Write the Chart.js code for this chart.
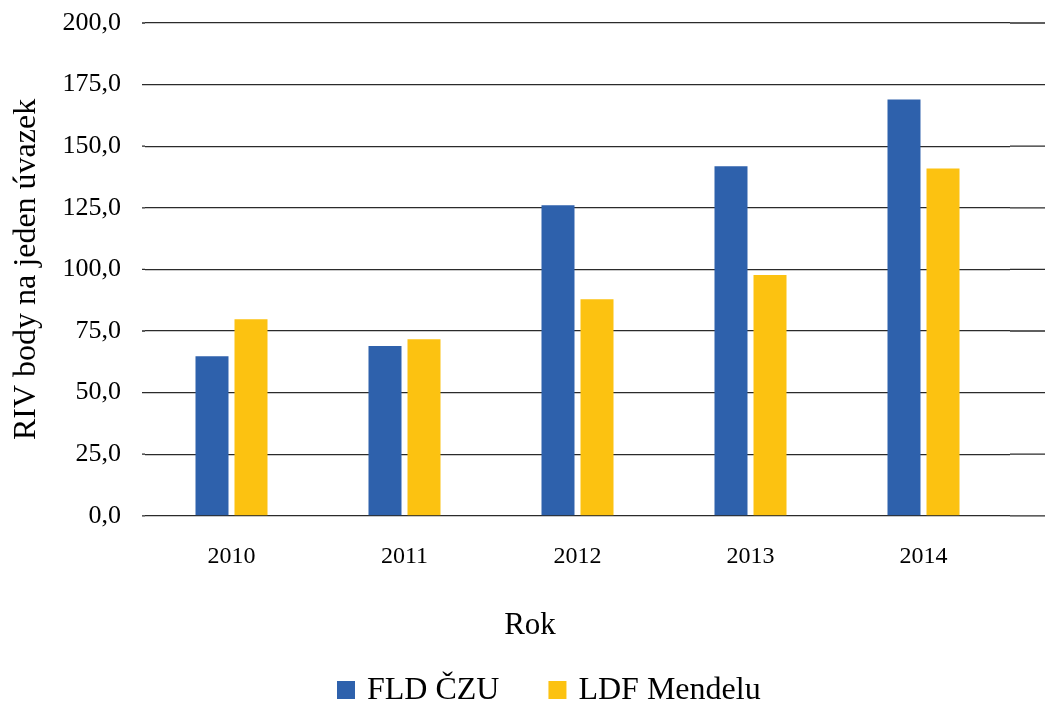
<!DOCTYPE html>
<html><head><meta charset="utf-8">
<script src="https://cdn.jsdelivr.net/npm/chart.js@4/dist/chart.umd.min.js"></script>
<style>html,body{margin:0;padding:0;background:#fff}#wrap{width:1045px;height:705px;position:relative}</style>
</head><body><div id="wrap"><canvas id="c" width="1045" height="705"></canvas></div>
<script>
// ---- data ----
const years = ['2010', '2011', '2012', '2013', '2014'];
const fldCzu = [64.8, 68.9, 126.0, 141.9, 169.0];
const ldfMendelu = [79.8, 71.7, 87.9, 97.7, 141.0];
const seriesNames = ['FLD ČZU', 'LDF Mendelu'];
const yTicks = [0, 25, 50, 75, 100, 125, 150, 175, 200];
const yTitle = 'RIV body na jeden úvazek';
const xTitle = 'Rok';

// ---- style ----
const BLUE = '#2E61AC';
const YELLOW = '#FCC211';
const GRID = '#2b2b2b';
const FONT = 'Liberation Serif';
Chart.defaults.font.family = FONT;
Chart.defaults.color = '#000';

// warm up the serif face on a scratch canvas before the chart draws
(function () {
  const c = document.createElement('canvas');
  const x = c.getContext('2d');
  [24, 26, 31, 32].forEach(s => { x.font = s + 'px ' + FONT; x.measureText('FLD ČZU LDF Mendelu Rok 2010'); x.fillText('FLD ČZU', 0, 20); });
})();

// extends the library's own y gridlines slightly beyond the plot area (as in the reference)
const extendGrid = {
  id: 'extendGrid',
  beforeDatasetsDraw(chart) {
    const {ctx, chartArea, scales} = chart;
    const y = scales.y;
    ctx.save();
    ctx.strokeStyle = GRID;
    ctx.lineWidth = 1.3;
    y.ticks.forEach(t => {
      const py = y.getPixelForValue(t.value);
      ctx.beginPath();
      ctx.moveTo(chartArea.right, py);
      ctx.lineTo(chart.width, py);
      ctx.moveTo(chartArea.left - 3, py);
      ctx.lineTo(chartArea.left, py);
      ctx.stroke();
    });
    ctx.restore();
  }
};

// centre the bottom title like the reference
const placeTitle = {
  id: 'placeTitle',
  afterLayout(chart) {
    const tb = chart.titleBlock;
    if (tb) {
      const dx = 530 - (tb.left + tb.right) / 2;
      tb.left += dx; tb.right += dx;
    }
  }
};

// legend drawn from the chart's datasets (label + colour), after everything else
const serifLegend = {
  id: 'serifLegend',
  afterDraw(chart) {
    const ctx = chart.ctx;
    const items = chart.data.datasets.map(ds => ({text: ds.label, color: ds.backgroundColor}));
    const box = 18, textGap = 12, itemGap = 49, cy = 690, startX = 337;
    ctx.save();
    ctx.font = '32px ' + FONT;
    ctx.textBaseline = 'middle';
    ctx.textAlign = 'left';
    let x = startX;
    items.forEach(it => {
      const w = ctx.measureText(it.text).width;
      ctx.fillStyle = it.color;
      ctx.fillRect(x, cy - box / 2, box, box);
      ctx.fillStyle = '#000';
      ctx.fillText(it.text, x + box + textGap, cy + 1);
      x += box + textGap + w + itemGap;
    });
    ctx.restore();
  }
};

const chart = new Chart(document.getElementById('c'), {
  type: 'bar',
  data: {
    labels: years,
    datasets: [
      {label: seriesNames[0], data: fldCzu, backgroundColor: BLUE, borderWidth: 0},
      {label: seriesNames[1], data: ldfMendelu, backgroundColor: YELLOW, borderWidth: 0}
    ]
  },
  options: {
    responsive: false,
    animation: false,
    devicePixelRatio: 1,
    layout: {padding: {top: 23, left: 0, right: 35, bottom: 61}},
    datasets: {bar: {categoryPercentage: 0.451, barPercentage: 0.846}},
    scales: {
      x: {
        grid: {display: false, drawTicks: false},
        border: {display: false},
        ticks: {padding: 27, font: {family: FONT, size: 24}, color: '#000'},
        afterFit: s => { s.height = 69; }
      },
      y: {
        min: 0, max: 200,
        afterBuildTicks: s => { s.ticks = yTicks.map(v => ({value: v})); },
        grid: {color: GRID, lineWidth: 1.3, drawTicks: true, tickLength: 24, tickColor: 'rgba(0,0,0,0)'},
        border: {display: false},
        ticks: {padding: 0, font: {family: FONT, size: 26}, color: '#000',
          callback: v => Number(v).toFixed(1).replace('.', ',')},
        title: {display: true, text: yTitle, font: {family: FONT, size: 32}, color: '#000', padding: {top: 7, bottom: 0}},
        afterFit: s => { s.width = 145; }
      }
    },
    plugins: {
      title: {display: true, text: xTitle, position: 'bottom', weight: 500,
        font: {family: FONT, size: 31, weight: 'normal'}, color: '#000', padding: {top: 22, bottom: 0}},
      legend: {display: false},
      tooltip: {enabled: false}
    }
  },
  plugins: [extendGrid, placeTitle, serifLegend]
});

// redraw a few times in case the face became available after the first paint
[30, 150, 400].forEach(t => setTimeout(() => chart.draw(), t));
</script></body></html>
